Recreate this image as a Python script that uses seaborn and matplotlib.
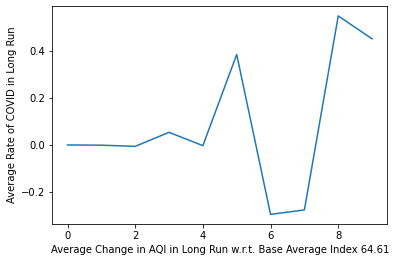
import matplotlib
matplotlib.use("Agg")
import matplotlib.pyplot as plt
import seaborn as sns
import pandas as pd

x_values = [0, 1, 2, 3, 4, 5, 6, 7, 8, 9]
y_values = [0.0, -0.001, -0.006, 0.054, -0.003, 0.387, -0.297, -0.278, 0.552, 0.454]

df = pd.DataFrame({"x": x_values, "y": y_values})

plt.rcParams['font.family'] = ['DejaVu Sans']
plt.rcParams['font.size'] = 10

fig = plt.figure(figsize=(398/72, 262/72), dpi=72)
ax = fig.add_axes([52.3/398, 1 - 224.3/262, (387.3 - 52.3)/398, (224.3 - 6)/262])
sns.lineplot(data=df, x="x", y="y", ax=ax, color="#1f77b4", linewidth=1.5)
ax.set_xlabel("Average Change in AQI in Long Run w.r.t. Base Average Index 64.61")
ax.set_ylabel("Average Rate of COVID in Long Run")
ax.set_xticks([0, 2, 4, 6, 8])
ax.set_yticks([-0.2, 0.0, 0.2, 0.4])
fig.savefig("out.png", dpi=72)
